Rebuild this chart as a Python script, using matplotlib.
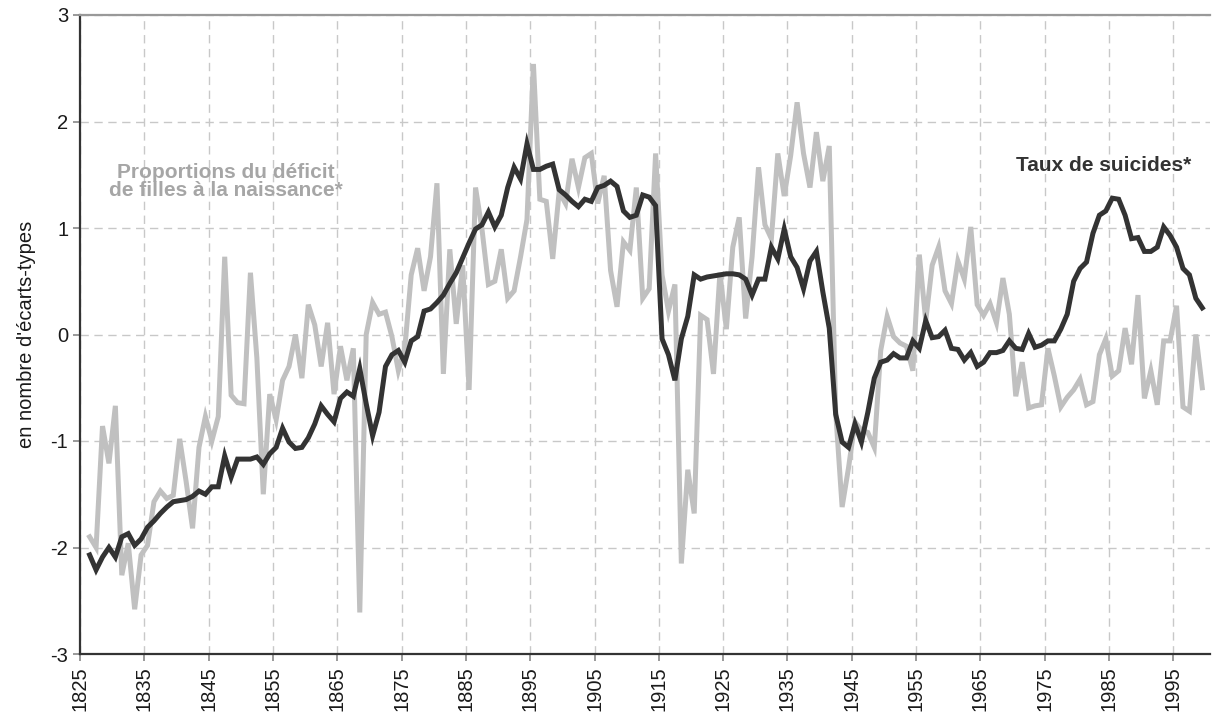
import numpy as np
import matplotlib
matplotlib.use("Agg")
import matplotlib.pyplot as plt

# years 1826..1999, values in standard deviations
years = np.arange(1826, 2000)

suicides = [
    -2.07, -2.21, -2.09, -2.00, -2.09, -1.90, -1.87, -1.98, -1.92, -1.81,  # 1826-1835
    -1.75, -1.68, -1.62, -1.57, -1.56, -1.55, -1.52, -1.47, -1.50, -1.43,  # 1836-1845
    -1.43, -1.14, -1.34, -1.17, -1.17, -1.17, -1.15, -1.22, -1.12, -1.06,  # 1846-1855
    -0.88, -1.01, -1.07, -1.06, -0.97, -0.84, -0.67, -0.75, -0.82, -0.60,  # 1856-1865
    -0.54, -0.58, -0.32, -0.65, -0.95, -0.73, -0.30, -0.19, -0.15, -0.26,  # 1866-1875
    -0.06, -0.02, 0.22, 0.24, 0.30, 0.37, 0.48, 0.58, 0.72, 0.86,          # 1876-1885
    0.99, 1.03, 1.15, 1.01, 1.12, 1.38, 1.57, 1.46, 1.79, 1.55,            # 1886-1895
    1.55, 1.58, 1.60, 1.36, 1.31, 1.25, 1.20, 1.27, 1.25, 1.38,            # 1896-1905
    1.40, 1.44, 1.39, 1.16, 1.10, 1.12, 1.31, 1.29, 1.21, -0.04,           # 1906-1915
    -0.19, -0.43, -0.04, 0.17, 0.56, 0.52, 0.54, 0.55, 0.56, 0.57,         # 1916-1925
    0.57, 0.56, 0.52, 0.37, 0.52, 0.52, 0.82, 0.71, 0.99, 0.73,            # 1926-1935
    0.63, 0.43, 0.69, 0.78, 0.40, 0.06, -0.75, -1.01, -1.06, -0.84,        # 1936-1945
    -1.01, -0.73, -0.41, -0.26, -0.24, -0.18, -0.22, -0.22, -0.06, -0.13,  # 1946-1955
    0.13, -0.03, -0.02, 0.04, -0.13, -0.14, -0.24, -0.17, -0.30, -0.26,    # 1956-1965
    -0.17, -0.17, -0.15, -0.06, -0.13, -0.14, 0.01, -0.12, -0.10, -0.06,   # 1966-1975
    -0.06, 0.05, 0.19, 0.50, 0.62, 0.68, 0.95, 1.12, 1.16, 1.28,           # 1976-1985
    1.27, 1.12, 0.90, 0.91, 0.78, 0.78, 0.82, 1.01, 0.93, 0.82,            # 1986-1995
    0.62, 0.56, 0.34, 0.25,                                                # 1996-1999
]

deficit_filles = [
    -1.90, -2.00, -0.86, -1.21, -0.67, -2.26, -1.96, -2.58, -2.07, -1.98,  # 1826-1835
    -1.57, -1.47, -1.54, -1.51, -0.98, -1.38, -1.82, -1.06, -0.77, -1.00,  # 1836-1845
    -0.77, 0.73, -0.57, -0.64, -0.65, 0.58, -0.22, -1.50, -0.56, -0.80,    # 1846-1855
    -0.43, -0.30, 0.00, -0.41, 0.28, 0.09, -0.30, 0.11, -0.56, -0.11,      # 1856-1865
    -0.43, -0.13, -2.61, 0.00, 0.30, 0.19, 0.21, -0.02, -0.34, -0.13,      # 1866-1875
    0.56, 0.81, 0.41, 0.73, 1.42, -0.37, 0.80, 0.10, 0.65, -0.52,          # 1876-1885
    1.38, 0.99, 0.47, 0.50, 0.80, 0.34, 0.41, 0.73, 1.08, 2.54,            # 1886-1895
    1.27, 1.25, 0.71, 1.34, 1.23, 1.65, 1.38, 1.66, 1.70, 1.23,            # 1896-1905
    1.49, 0.60, 0.26, 0.87, 0.79, 1.38, 0.34, 0.43, 1.70, 0.56,            # 1906-1915
    0.22, 0.47, -2.15, -1.27, -1.68, 0.18, 0.14, -0.37, 0.58, 0.05,        # 1916-1925
    0.82, 1.10, 0.15, 0.73, 1.57, 1.03, 0.90, 1.70, 1.30, 1.68,            # 1926-1935
    2.18, 1.70, 1.38, 1.90, 1.44, 1.77, -0.73, -1.62, -1.25, -0.82,        # 1936-1945
    -0.90, -0.92, -1.06, -0.15, 0.17, -0.02, -0.08, -0.11, -0.34, 0.75,    # 1946-1955
    0.13, 0.65, 0.82, 0.41, 0.29, 0.69, 0.52, 1.01, 0.28, 0.18,            # 1956-1965
    0.29, 0.11, 0.53, 0.19, -0.58, -0.26, -0.69, -0.67, -0.66, -0.13,      # 1966-1975
    -0.39, -0.68, -0.59, -0.52, -0.42, -0.66, -0.63, -0.19, -0.04, -0.39,  # 1976-1985
    -0.34, 0.06, -0.28, 0.37, -0.60, -0.34, -0.66, -0.06, -0.06, 0.27,     # 1986-1995
    -0.68, -0.72, 0.00, -0.50,                                             # 1996-1999
]

x_ticks = list(range(1825, 2000, 10))
y_ticks = [-3, -2, -1, 0, 1, 2, 3]

plt.rcParams['font.family'] = ['Liberation Sans', 'DejaVu Sans']

fig = plt.figure(figsize=(12.13, 7.2), dpi=100)
ax = fig.add_axes([80 / 1213, 66 / 720, 1130 / 1213, 639 / 720])

# points sit in the middle of each year
xs = years + 0.5
ax.plot(xs, deficit_filles, color='#c0c0c0', lw=3.6, solid_joinstyle='miter', zorder=3)
ax.plot(xs, suicides, color='#333333', lw=3.6, solid_joinstyle='miter', zorder=4)

ax.set_xlim(1825, 2000.7)
ax.set_ylim(-3, 3)
ax.set_xticks(x_ticks)
ax.set_xticklabels([str(t) for t in x_ticks], rotation=90)
ax.set_yticks(y_ticks)
ax.set_yticklabels([str(t) for t in y_ticks])
ax.tick_params(axis='both', labelsize=14.5, colors='#888888', labelcolor='#1a1a1a',
               length=5, width=1.2)
ax.tick_params(axis='x', pad=4)

ax.grid(True, color='#c8c8c8', linestyle=(0, (6, 4)), linewidth=1)
ax.set_axisbelow(True)

for side in ['left', 'bottom']:
    ax.spines[side].set_color('#333333')
    ax.spines[side].set_linewidth(1.6)
ax.spines['top'].set_color('#999999')
ax.spines['top'].set_linewidth(1.6)
ax.spines['right'].set_visible(False)

ax.set_ylabel("en nombre d'écarts-types", fontsize=14.5, color='#1a1a1a', labelpad=10)

ax.text(1847.7, 1.44, "Proportions du déficit\nde filles à la naissance*", ha='center',
        va='center', fontsize=15, fontweight='bold', color='#a6a6a6', linespacing=0.95)
ax.text(1984.1, 1.59, "Taux de suicides*", ha='center', va='center',
        fontsize=15, fontweight='bold', color='#333333')

fig.savefig('out.png', dpi=100)
